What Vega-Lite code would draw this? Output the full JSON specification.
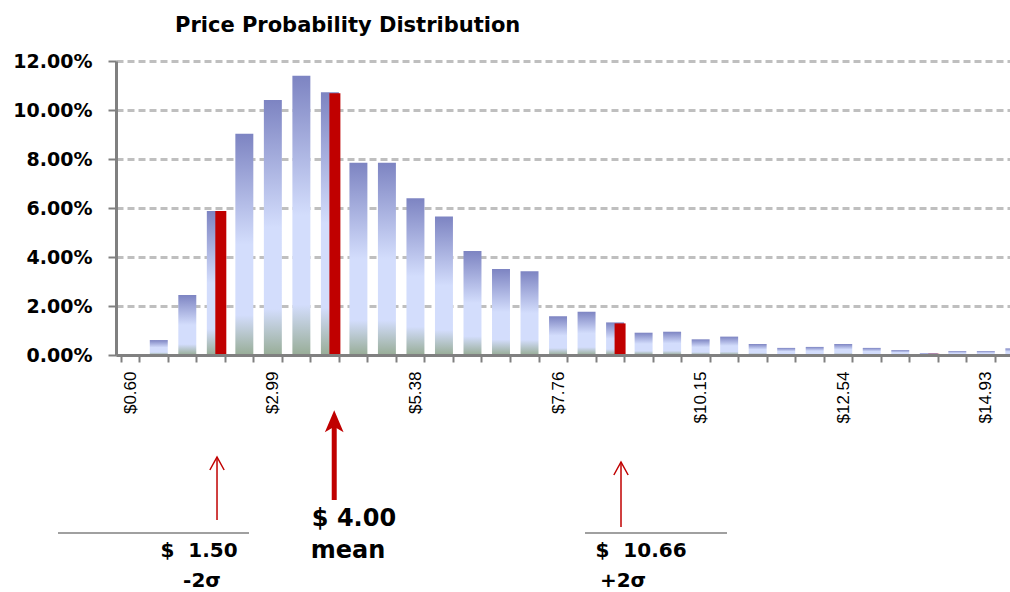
{
  "$schema": "https://vega.github.io/schema/vega-lite/v6.json",
  "width": 894,
  "height": 294,
  "autosize": "none",
  "padding": {"left": 116, "top": 61, "right": 0, "bottom": 237},
  "background": "white",
  "config": {"view": {"stroke": null}, "font": "DejaVu Sans"},
  "title": {
    "text": "Price Probability Distribution",
    "anchor": "start",
    "frame": "group",
    "dx": 59,
    "offset": 16,
    "fontSize": 21,
    "font": "DejaVu Sans",
    "fontWeight": "bold",
    "color": "black"
  },
  "datasets": {
    "bars": [
      {"price": "$0.60", "prob": 0},
      {"price": "$1.08", "prob": 0.0061},
      {"price": "$1.56", "prob": 0.0245},
      {"price": "$2.03", "prob": 0.0588},
      {"price": "$2.51", "prob": 0.0903},
      {"price": "$2.99", "prob": 0.1041},
      {"price": "$3.47", "prob": 0.1140},
      {"price": "$3.94", "prob": 0.1072},
      {"price": "$4.42", "prob": 0.0785},
      {"price": "$4.90", "prob": 0.0785},
      {"price": "$5.38", "prob": 0.0640},
      {"price": "$5.85", "prob": 0.0565},
      {"price": "$6.33", "prob": 0.0424},
      {"price": "$6.81", "prob": 0.0351},
      {"price": "$7.29", "prob": 0.0342},
      {"price": "$7.76", "prob": 0.0158},
      {"price": "$8.24", "prob": 0.0177},
      {"price": "$8.72", "prob": 0.0133},
      {"price": "$9.20", "prob": 0.0091},
      {"price": "$9.68", "prob": 0.0095},
      {"price": "$10.15", "prob": 0.0064},
      {"price": "$10.63", "prob": 0.0075},
      {"price": "$11.11", "prob": 0.0045},
      {"price": "$11.59", "prob": 0.0029},
      {"price": "$12.06", "prob": 0.0033},
      {"price": "$12.54", "prob": 0.0045},
      {"price": "$13.02", "prob": 0.0029},
      {"price": "$13.50", "prob": 0.0020},
      {"price": "$13.97", "prob": 0.0008},
      {"price": "$14.45", "prob": 0.0016},
      {"price": "$14.93", "prob": 0.0016},
      {"price": "$15.41", "prob": 0.0027}
    ],
    "markers": [
      {"price": "$2.03", "prob": 0.0588},
      {"price": "$3.94", "prob": 0.1068},
      {"price": "$8.72", "prob": 0.0129},
      {"price": "$13.97", "prob": 0.0005}
    ],
    "baselines": [
      {"p": -0.61, "p2": 2.589, "v": -0.07265},
      {"p": 8.216, "p2": 10.594, "v": -0.07265}
    ],
    "sigmaArrows": [
      {"p": 2.053, "v": -0.06735, "v2": -0.04163},
      {"p": 8.819, "v": -0.0702, "v2": -0.04367}
    ],
    "meanArrow": [
      {"p": 4.016, "v": -0.05918, "v2": -0.0270}
    ],
    "meanNotes": [
      {"p": 4.347, "v": -0.06694, "label": "$ 4.00"},
      {"p": 4.247, "v": -0.0800, "label": "mean"}
    ],
    "sigmaNotes": [
      {"p": 1.751, "v": -0.0800, "label": "$\u00a0\u00a01.50"},
      {"p": 1.801, "v": -0.09224, "label": "-2σ"},
      {"p": 9.154, "v": -0.0800, "label": "$\u00a0\u00a010.66"},
      {"p": 8.853, "v": -0.09224, "label": "+2σ"}
    ]
  },
  "layer": [
    {
      "layer": [
        {
          "data": {"name": "bars"},
          "mark": {
            "type": "bar",
            "color": {
              "gradient": "linear",
              "x1": 0, "y1": 0, "x2": 0, "y2": 1,
              "stops": [
                {"offset": 0, "color": "#7D84C2"},
                {"offset": 0.5, "color": "#D3DDFC"},
                {"offset": 0.82, "color": "#D3DDFC"},
                {"offset": 1, "color": "#98AD97"}
              ]
            }
          },
          "encoding": {
            "x": {
              "field": "price",
              "type": "nominal",
              "sort": null,
              "scale": {"range": [0, 912.6], "paddingInner": 0.37, "paddingOuter": 0.185},
              "axis": {
                "title": null,
                "tickBand": "extent",
                "labelAngle": -90,
                "labelExpr": "indexof(['$0.60','$2.99','$5.38','$7.76','$10.15','$12.54','$14.93'], datum.label) >= 0 ? datum.label : ''",
                "labelFont": "Liberation Sans",
                "labelFontSize": 17,
                "labelColor": "black",
                "labelPadding": 9,
                "labelOverlap": false,
                "tickSize": 7,
                "tickColor": "#808080",
                "tickWidth": 2,
                "domainColor": "#808080",
                "domainWidth": 3,
                "zindex": 1
              }
            },
            "y": {
              "field": "prob",
              "type": "quantitative",
              "scale": {"domain": [0, 0.12], "nice": false, "zero": true},
              "axis": {
                "title": null,
                "format": ".2%",
                "values": [0, 0.02, 0.04, 0.06, 0.08, 0.1, 0.12],
                "grid": true,
                "gridDash": [7, 4],
                "gridColor": "#BFBFBF",
                "gridWidth": 3,
                "domainColor": "#808080",
                "domainWidth": 3,
                "tickColor": "#808080",
                "tickWidth": 2,
                "tickSize": 8,
                "labelFont": "DejaVu Sans",
                "labelFontWeight": "bold",
                "labelFontSize": 19,
                "labelColor": "black",
                "labelPadding": 16
              }
            }
          }
        },
        {
          "data": {"name": "markers"},
          "mark": {"type": "bar", "color": "#C00000", "width": 11, "xOffset": 5},
          "encoding": {
            "x": {"field": "price", "type": "nominal", "sort": null},
            "y": {"field": "prob", "type": "quantitative"}
          }
        }
      ]
    },
    {
      "layer": [
        {
          "data": {"name": "baselines"},
          "mark": {"type": "rule", "color": "#808080", "strokeWidth": 1.5},
          "encoding": {
            "x": {"field": "p", "type": "quantitative", "scale": {"domain": [0.3612, 15.334], "nice": false, "zero": false}, "axis": null},
            "x2": {"field": "p2"},
            "y": {"field": "v", "type": "quantitative"}
          }
        },
        {
          "data": {"name": "sigmaArrows"},
          "mark": {"type": "rule", "color": "#C00000", "strokeWidth": 1.5},
          "encoding": {
            "x": {"field": "p", "type": "quantitative", "axis": null},
            "y": {"field": "v", "type": "quantitative"},
            "y2": {"field": "v2"}
          }
        },
        {
          "data": {"name": "sigmaArrows"},
          "mark": {"type": "point", "shape": "M -0.55 1 L 0 0 L 0.55 1", "filled": false, "color": "#C00000", "strokeWidth": 1.5, "size": 676, "opacity": 1},
          "encoding": {
            "x": {"field": "p", "type": "quantitative", "axis": null},
            "y": {"field": "v2", "type": "quantitative"}
          }
        },
        {
          "data": {"name": "meanArrow"},
          "mark": {"type": "rule", "color": "#C00000", "strokeWidth": 5},
          "encoding": {
            "x": {"field": "p", "type": "quantitative", "axis": null},
            "y": {"field": "v", "type": "quantitative"},
            "y2": {"field": "v2"}
          }
        },
        {
          "data": {"name": "meanArrow"},
          "mark": {"type": "point", "shape": "M 0 -1 L 0.85 1 L 0 0.5 L -0.85 1 Z", "filled": true, "color": "#C00000", "size": 484, "opacity": 1},
          "encoding": {
            "x": {"field": "p", "type": "quantitative", "axis": null},
            "y": {"field": "v2", "type": "quantitative"}
          }
        },
        {
          "data": {"name": "meanNotes"},
          "mark": {"type": "text", "font": "DejaVu Sans", "fontWeight": "bold", "fontSize": 24, "color": "black", "align": "center", "baseline": "middle"},
          "encoding": {
            "x": {"field": "p", "type": "quantitative", "axis": null},
            "y": {"field": "v", "type": "quantitative"},
            "text": {"field": "label"}
          }
        },
        {
          "data": {"name": "sigmaNotes"},
          "mark": {"type": "text", "font": "DejaVu Sans", "fontWeight": "bold", "fontSize": 20, "color": "black", "align": "center", "baseline": "middle"},
          "encoding": {
            "x": {"field": "p", "type": "quantitative", "axis": null},
            "y": {"field": "v", "type": "quantitative"},
            "text": {"field": "label"}
          }
        }
      ]
    }
  ],
  "resolve": {"scale": {"x": "independent"}, "axis": {"x": "independent"}}
}
